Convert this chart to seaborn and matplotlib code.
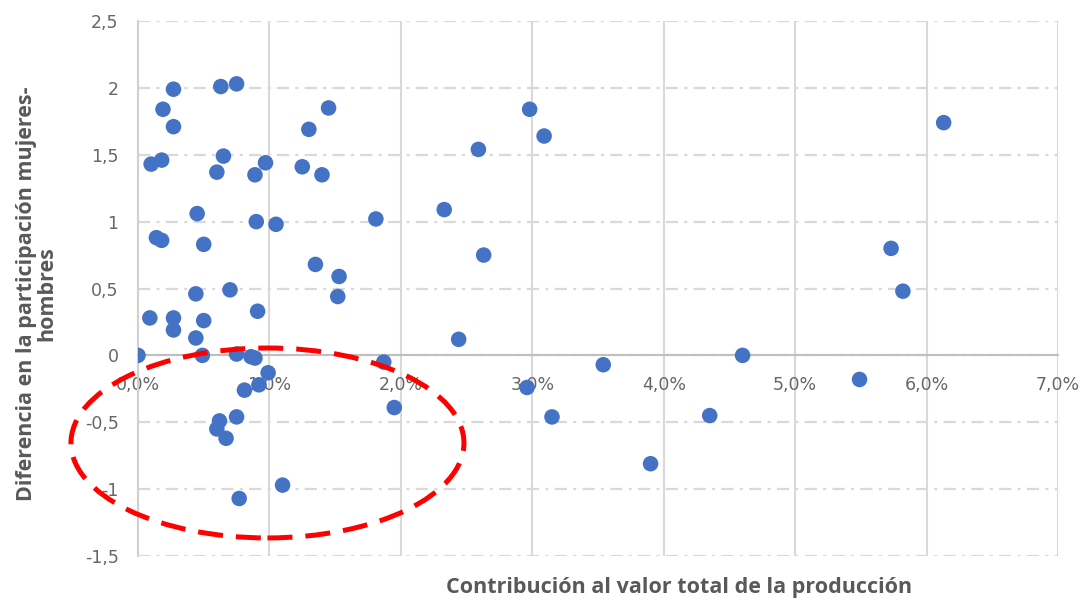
import matplotlib
matplotlib.use("Agg")
import matplotlib.pyplot as plt
import seaborn as sns
import pandas as pd
from matplotlib.patches import Ellipse
from matplotlib.ticker import FuncFormatter, FixedLocator

# ---- data ----
contrib_pct = [0.10, 0.18, 0.19, 0.27, 0.27, 0.63, 0.75, 0.65, 0.60, 0.89,
               0.97, 1.30, 1.45, 1.25, 1.40, 0.45, 0.14, 0.18, 0.50, 0.90,
               1.05, 1.81, 1.35, 1.53, 1.52, 0.44, 0.70, 0.09, 0.27, 0.27,
               0.50, 0.44, 0.91, 0.00, 0.49, 0.75, 0.86, 0.89, 0.99, 0.92,
               0.81, 1.87, 1.95, 2.44, 0.75, 0.62, 0.60, 0.67, 1.10, 0.77,
               2.96, 3.15, 3.54, 3.90, 4.35, 4.60, 5.49, 2.98, 3.09, 2.59,
               2.33, 2.63, 6.13, 5.73, 5.82]
diff_mh = [1.43, 1.46, 1.84, 1.99, 1.71, 2.01, 2.03, 1.49, 1.37, 1.35,
           1.44, 1.69, 1.85, 1.41, 1.35, 1.06, 0.88, 0.86, 0.83, 1.00,
           0.98, 1.02, 0.68, 0.59, 0.44, 0.46, 0.49, 0.28, 0.28, 0.19,
           0.26, 0.13, 0.33, 0.00, 0.00, 0.01, -0.01, -0.02, -0.13, -0.22,
           -0.26, -0.05, -0.39, 0.12, -0.46, -0.49, -0.55, -0.62, -0.97, -1.07,
           -0.24, -0.46, -0.07, -0.81, -0.45, 0.00, -0.18, 1.84, 1.64, 1.54,
           1.09, 0.75, 1.74, 0.80, 0.48]
x_ticks = [0.00, 0.01, 0.02, 0.03, 0.04, 0.05, 0.06, 0.07]
y_ticks = [-1.5, -1.0, -0.5, 0.0, 0.5, 1.0, 1.5, 2.0, 2.5]
y_tick_labels = ["-1,5", "-1", "-0,5", "0", "0,5", "1", "1,5", "2", "2,5"]
x_title = "Contribución al valor total de la producción"
y_title = "Diferencia en la participación mujeres-\nhombres"
# highlighted region (ellipse): center, width, height in data units
ell_center = (0.00985, -0.655)
ell_w, ell_h = 0.0299, 1.42

df = pd.DataFrame({"x": [v / 100 for v in contrib_pct], "y": diff_mh})

sns.set_style("white")
plt.rcParams["font.family"] = ["DejaVu Sans"]

fig = plt.figure(figsize=(10.85, 6.01), dpi=100)
ax = fig.add_axes([138 / 1085, 1 - 556 / 601, 920 / 1085, 535 / 601])

sns.scatterplot(data=df, x="x", y="y", ax=ax, color="#4472C4", s=125,
                edgecolor="none", linewidth=0, zorder=3)

ax.set_xlim(0, 0.07)
ax.set_ylim(-1.5, 2.5)
ax.set_axisbelow(True)

ax.xaxis.set_major_locator(FixedLocator(x_ticks))
ax.xaxis.set_major_formatter(FuncFormatter(lambda v, p: f"{v*100:.1f}%".replace(".", ",")))
ax.yaxis.set_major_locator(FixedLocator(y_ticks))
ax.set_yticklabels(y_tick_labels)

grid_c = "#d9d9d9"
ax.xaxis.grid(True, color=grid_c, linewidth=1.5, linestyle="-")
ax.yaxis.grid(True, color=grid_c, linewidth=1.6,
              linestyle=(0, (5.5, 2.8, 1.4, 2.8)))

for s in ["top", "right"]:
    ax.spines[s].set_visible(False)
ax.spines["left"].set_color("#d0d0d0")
ax.spines["left"].set_linewidth(1.5)
ax.spines["bottom"].set_position(("data", 0))
ax.spines["bottom"].set_color("#bfbfbf")
ax.spines["bottom"].set_linewidth(1.5)

ax.tick_params(axis="both", length=0, labelsize=12.5, labelcolor="#666666")
ax.tick_params(axis="y", pad=14)
ax.tick_params(axis="x", pad=15)

ax.set_xlabel(x_title, fontsize=15.5, fontweight="bold", color="#595959",
              family=["Open Sans", "DejaVu Sans"])
ax.xaxis.set_label_coords(0.588, -0.04)
ax.set_ylabel(y_title, fontsize=15.5, fontweight="bold", color="#595959",
              family=["Open Sans", "DejaVu Sans"], linespacing=0.95)
ax.yaxis.set_label_coords(-0.088, 0.49)

ell = Ellipse(ell_center, ell_w, ell_h, fill=False, edgecolor="#FF0000",
              linewidth=3.6, linestyle=(0, (5, 2.6)), clip_on=False, zorder=5)
ax.add_patch(ell)

fig.savefig("out.png", dpi=100)
